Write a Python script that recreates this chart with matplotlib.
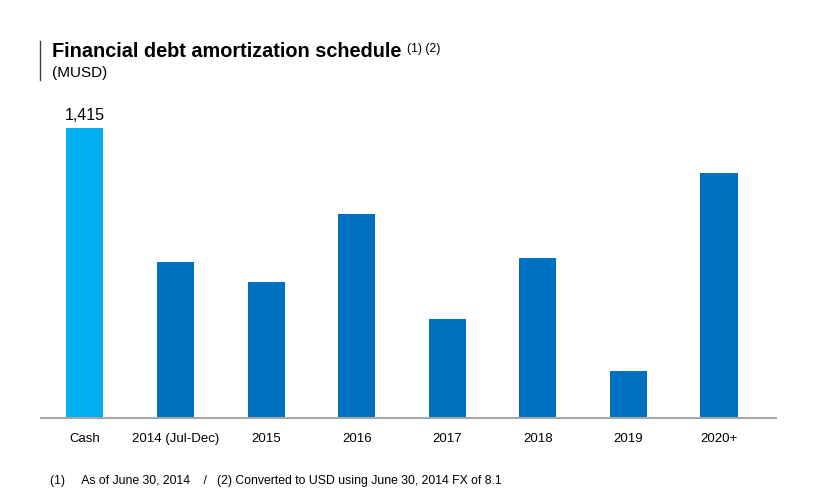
from matplotlib import pyplot as plt
from matplotlib.lines import Line2D

categories = ['Cash', '2014 (Jul-Dec)', '2015', '2016', '2017', '2018', '2019', '2020+']
values = [1415, 761, 664, 995, 483, 781, 229, 1195]
colors = ['#00B0F0'] + ['#0070C0'] * 7

plt.rcParams['font.family'] = ['Liberation Sans', 'DejaVu Sans']

fig = plt.figure(figsize=(8.22, 5.02), dpi=100)
ax = fig.add_axes([41 / 822, (502 - 419) / 502, (776 - 41) / 822, 318 / 502])

x = range(len(categories))
ax.bar(x, values, width=0.41, color=colors)
ax.set_xlim(-0.485, 7.63)
ax.set_ylim(0, 1551)
ax.set_xticks(list(x))
ax.set_xticklabels(categories, fontsize=9.5)
ax.tick_params(axis='x', length=0, pad=10)
ax.set_yticks([])
for s in ['top', 'right', 'left']:
    ax.spines[s].set_visible(False)
ax.spines['bottom'].set_color('#A6A6A6')
ax.spines['bottom'].set_linewidth(1.5)

ax.text(0, values[0] + 30, '{:,}'.format(values[0]), ha='center', va='bottom', fontsize=11.5)

fig.text(52 / 822, 1 - 57 / 502, 'Financial debt amortization schedule', fontsize=14.3,
         fontweight='bold', ha='left', va='baseline')
fig.text(407 / 822, 1 - 52 / 502, '(1) (2)', fontsize=8.8, ha='left', va='baseline')
fig.text(52 / 822, 1 - 77 / 502, '(MUSD)', fontsize=11, ha='left', va='baseline')
fig.add_artist(Line2D([40 / 822, 40 / 822], [1 - 42 / 502, 1 - 81 / 502], color='#404040', lw=1))

fig.text(50 / 822, 1 - 484 / 502, '(1)     As of June 30, 2014    /   (2) Converted to USD using June 30, 2014 FX of 8.1',
         fontsize=8.8, ha='left', va='baseline')

fig.savefig('out.png', dpi=100)
